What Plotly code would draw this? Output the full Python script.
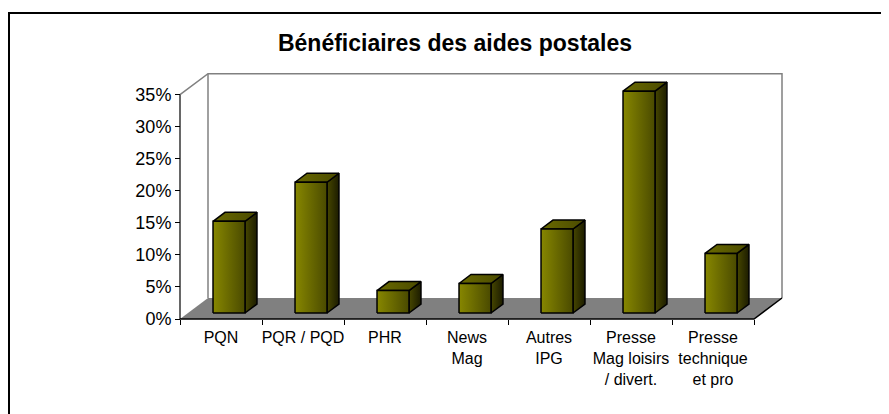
import plotly.graph_objects as go

# ---------------- data ----------------
categories = ["PQN", "PQR / PQD", "PHR", "News<br>Mag", "Autres<br>IPG",
              "Presse<br>Mag loisirs<br>/ divert.", "Presse<br>technique<br>et pro"]
values = [14.3, 20.4, 3.5, 4.6, 13.1, 34.6, 9.3]
ytick_vals = [0, 5, 10, 15, 20, 25, 30, 35]
ytick_text = ["0%", "5%", "10%", "15%", "20%", "25%", "30%", "35%"]
title_text = "Bénéficiaires des aides postales"

# ---------------- geometry (pixels) ----------------
OFF = 8                       # page body margin
W_FIG, H_FIG = 889 - OFF, 414 - OFF
PX_CAT = 82.0      # pixels per category
PX_PCT = 6.41      # pixels per percent
ORIG_X, ORIG_Y = 180 - OFF, 319 - OFF   # pixel of (x=-0.5, y=0)
L, R, T, B = 168 - OFF, 800 - OFF, 64 - OFF, 330 - OFF
n = len(categories)
YMAX = ytick_vals[-1]

DX = 28 / PX_CAT          # depth offset in category units
DY = 21 / PX_PCT          # depth offset in percent units
F1, F2 = 0.286, 0.714     # bar depth (front/back fraction)
BW = 0.39                 # bar width (category units)

x_range = [-0.5 - (ORIG_X - L) / PX_CAT, -0.5 + (R - ORIG_X) / PX_CAT]
y_range = [-(B - ORIG_Y) / PX_PCT, (ORIG_Y - T) / PX_PCT]

FONT = "Liberation Sans, Arial, sans-serif"
GRAY = "#808080"

fig = go.Figure()

def poly(xs, ys, fill=None, line_color=None, lw=1.5, grad=None):
    xs = list(xs) + [xs[0]]
    ys = list(ys) + [ys[0]]
    kw = dict(x=xs, y=ys, mode="lines", hoverinfo="skip", showlegend=False,
              line=dict(color=line_color or "rgba(0,0,0,0)", width=lw if line_color else 0))
    if fill or grad:
        kw["fill"] = "toself"
        kw["fillcolor"] = fill or "rgba(0,0,0,0)"
        if grad:
            kw["fillgradient"] = grad
    fig.add_trace(go.Scatter(**kw))

def seg(xs, ys, color, lw):
    fig.add_trace(go.Scatter(x=xs, y=ys, mode="lines", hoverinfo="skip", showlegend=False,
                             line=dict(color=color, width=lw), cliponaxis=False))

x0, x1 = -0.5, n - 0.5
# back wall (white) with gray edges
poly([x0 + DX, x1 + DX, x1 + DX, x0 + DX], [DY, DY, YMAX + DY, YMAX + DY], fill="white")
seg([x0, x0 + DX, x1 + DX, x1 + DX], [YMAX, YMAX + DY, YMAX + DY, DY], GRAY, 1.5)
seg([x0 + DX, x0 + DX], [DY, YMAX + DY], GRAY, 1.5)
# floor
poly([x0, x1, x1 + DX, x0 + DX], [0, 0, DY, DY], fill=GRAY)
seg([x0, x1, x1 + DX], [0, 0, DY], "black", 1.5)
# value axis line
seg([x0, x0], [0, YMAX], "black", 1.2)

# bars
for i, v in enumerate(values):
    xl = i - BW / 2 + F1 * DX
    xr = xl + BW
    yb = F1 * DY
    yt = yb + v
    ddx = (F2 - F1) * DX
    ddy = (F2 - F1) * DY
    # side face
    poly([xr, xr + ddx, xr + ddx, xr], [yb, yb + ddy, yt + ddy, yt],
         line_color="black",
         grad=dict(type="horizontal", colorscale=[[0, "#474700"], [1, "#1c1c00"]],
                   start=xr, stop=xr + ddx))
    # top face
    poly([xl, xr, xr + ddx, xl + ddx], [yt, yt, yt + ddy, yt + ddy],
         line_color="black",
         grad=dict(type="horizontal", colorscale=[[0, "#6a6a00"], [1, "#4a4a00"]],
                   start=xl, stop=xr + ddx))
    # front face
    poly([xl, xr, xr, xl], [yb, yb, yt, yt],
         line_color="black",
         grad=dict(type="horizontal", colorscale=[[0, "#878700"], [1, "#4a4a00"]],
                   start=xl, stop=xr))

PW = W_FIG - L - (W_FIG - R)
PH = B - T

def px_to_paper(px, py):
    return (px - L) / PW, (B - py) / PH

bx0, by0 = px_to_paper(9 - OFF, 13 - OFF)
bx1, by1 = px_to_paper(W_FIG + 10, H_FIG + 10)

fig.update_layout(
    width=W_FIG, height=H_FIG,
    margin=dict(l=L, r=W_FIG - R, t=T, b=H_FIG - B, pad=0),
    paper_bgcolor="white", plot_bgcolor="rgba(0,0,0,0)",
    font=dict(family=FONT, color="black"),
    title=dict(text="<b>" + title_text + "</b>", font=dict(family=FONT, size=23, color="black"),
               x=(455 - OFF) / W_FIG, xref="container", xanchor="center",
               y=1 - (43 - OFF) / H_FIG, yref="container", yanchor="middle"),
    xaxis=dict(range=x_range, autorange=False, fixedrange=True,
               showgrid=False, zeroline=False, showline=False,
               tickmode="array", tickvals=list(range(n)), ticktext=categories,
               ticks="", tickfont=dict(size=16, family=FONT, color="black"),
               ticklabelstandoff=7,
               anchor="free", position=(B - ORIG_Y) / PH, tickangle=0,
               minor=dict(tickmode="array", tickvals=[k - 0.5 for k in range(n + 1)],
                          ticks="outside", ticklen=5, tickwidth=1.2, tickcolor="black",
                          showgrid=False)),
    yaxis=dict(range=y_range, autorange=False, fixedrange=True,
               showgrid=False, zeroline=False, showline=False,
               tickmode="array", tickvals=ytick_vals, ticktext=ytick_text,
               ticks="outside", ticklen=5, tickwidth=1.2, tickcolor="black",
               tickfont=dict(size=18, family=FONT, color="black"),
               anchor="free", position=(ORIG_X - L) / PW),
    shapes=[dict(type="rect", xref="paper", yref="paper", x0=bx0, y0=by1, x1=bx1, y1=by0,
                 line=dict(color="black", width=2), fillcolor="rgba(0,0,0,0)", layer="below")],
)

fig.write_html("out.html")
